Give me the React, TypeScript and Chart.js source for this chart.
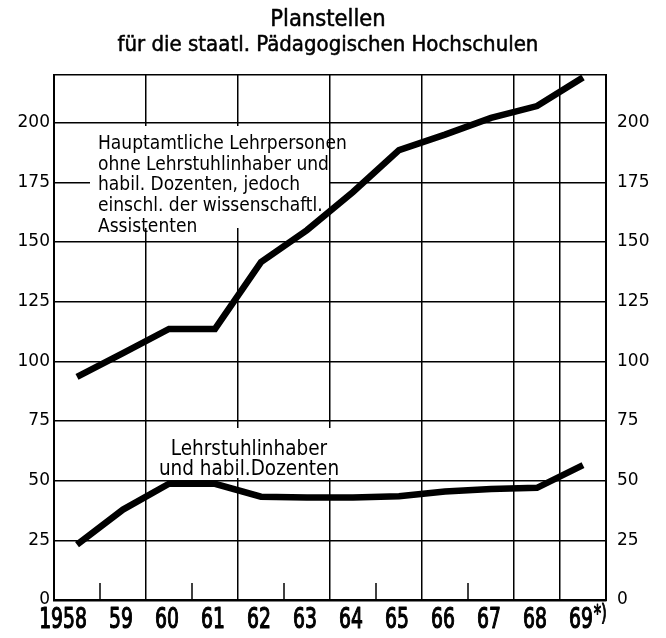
import React, { useEffect, useRef } from "react";
import { Chart, registerables } from "chart.js";

Chart.register(...registerables);

const years = ["1958", "59", "60", "61", "62", "63", "64", "65", "66", "67", "68", "69*)"];
const hauptamtlich = [93.5, 103.5, 113.6, 113.6, 141.6, 155, 171, 188.5, 195, 202, 207, 219];
const lehrstuhl = [23.2, 37.9, 48.7, 48.7, 43.3, 43, 43, 43.5, 45.5, 46.5, 47, 56.5];
const yTicks = [0, 25, 50, 75, 100, 125, 150, 175, 200, 220];
const shortTickBoundaries = [1, 3, 5, 7, 9];

const titleLines = ["Planstellen", "für die staatl. Pädagogischen Hochschulen"];
const upperNote = [
  "Hauptamtliche Lehrpersonen",
  "ohne Lehrstuhlinhaber und",
  "habil. Dozenten, jedoch",
  "einschl. der wissenschaftl.",
  "Assistenten",
];
const lowerNote = ["Lehrstuhlinhaber", "und habil.Dozenten"];

const TEXT_FONT = '"DejaVu Sans Condensed", "DejaVu Sans", sans-serif';

function heavyText(ctx: CanvasRenderingContext2D, t: string, x: number, y: number, w: number) {
  ctx.fillText(t, x, y);
  ctx.lineWidth = w;
  ctx.strokeText(t, x, y);
}

const decorPlugin = {
  id: "decor",
  beforeDatasetsDraw(chart: any) {
    const { ctx, chartArea, scales } = chart;
    const x = scales.x;
    ctx.save();
    ctx.strokeStyle = "#000";
    ctx.lineWidth = 1.5;
    for (const b of shortTickBoundaries) {
      const px = (x.getPixelForValue(b - 1) + x.getPixelForValue(b)) / 2;
      ctx.beginPath();
      ctx.moveTo(px, chartArea.bottom);
      ctx.lineTo(px, chartArea.bottom - 17);
      ctx.stroke();
    }
    ctx.fillStyle = "#fff";
    ctx.fillRect(90, 126, 239, 102);
    ctx.fillRect(152, 428, 194, 50);
    ctx.restore();
  },
  afterDraw(chart: any) {
    const { ctx, scales, chartArea } = chart;
    ctx.save();
    ctx.fillStyle = "#000";
    ctx.strokeStyle = "#000";
    ctx.lineJoin = "round";
    ctx.textBaseline = "alphabetic";
    // title
    ctx.textAlign = "center";
    ctx.font = `23.5px ${TEXT_FONT}`;
    heavyText(ctx, titleLines[0], 328, 26, 0.5);
    ctx.font = `22px ${TEXT_FONT}`;
    heavyText(ctx, titleLines[1], 328, 51, 0.5);
    // upper annotation
    ctx.textAlign = "left";
    ctx.font = `19px ${TEXT_FONT}`;
    upperNote.forEach((t, i) => ctx.fillText(t, 98, 149 + i * 20.7));
    // lower annotation
    ctx.textAlign = "center";
    ctx.font = `20.5px ${TEXT_FONT}`;
    lowerNote.forEach((t, i) => ctx.fillText(t, 249, 455 + i * 20));
    // x-axis year labels (tall, narrow lettering)
    const xs = scales.x;
    const base = chartArea.bottom + 28;
    years.forEach((label, i) => {
      const cx = xs.getPixelForValue(i) - 2;
      ctx.save();
      ctx.translate(cx, base);
      ctx.scale(0.72, 1);
      ctx.font = `29px ${TEXT_FONT}`;
      if (label.length === 4 && /^\d+$/.test(label)) {
        const w = ctx.measureText(label.slice(2)).width;
        ctx.textAlign = "right";
        heavyText(ctx, label, w / 2, 0, 1.2);
      } else if (label.endsWith("*)")) {
        const main = label.slice(0, -2);
        const w = ctx.measureText(main).width;
        ctx.textAlign = "center";
        heavyText(ctx, main, 0, 0, 1.2);
        ctx.textAlign = "left";
        ctx.font = `23px ${TEXT_FONT}`;
        heavyText(ctx, "*)", w / 2 + 1, -7, 1);
      } else {
        ctx.textAlign = "center";
        heavyText(ctx, label, 0, 0, 1.2);
      }
      ctx.restore();
    });
    ctx.restore();
  },
};

export default function App() {
  const ref = useRef<HTMLCanvasElement>(null);
  useEffect(() => {
    document.body.style.margin = "0";
    const canvas = ref.current;
    if (!canvas) return;
    const chart = new Chart(canvas, {
      type: "line",
      data: {
        labels: years,
        datasets: [
          {
            data: hauptamtlich,
            borderColor: "#000",
            borderWidth: 6.5,
            pointRadius: 0,
            tension: 0,
            yAxisID: "y",
          },
          {
            data: lehrstuhl,
            borderColor: "#000",
            borderWidth: 6.5,
            pointRadius: 0,
            tension: 0,
            yAxisID: "y",
          },
        ],
      },
      options: {
        responsive: false,
        animation: false,
        devicePixelRatio: 1,
        layout: { padding: { top: 75, left: 0, right: 0, bottom: 0 } },
        plugins: { legend: { display: false }, tooltip: { enabled: false }, title: { display: false } },
        scales: {
          x: {
            type: "category",
            offset: true,
            grid: {
              offset: true,
              drawTicks: false,
              lineWidth: 1.5,
              color: (c: any) =>
                c.index !== undefined && shortTickBoundaries.includes(c.index) ? "rgba(0,0,0,0)" : "#000",
            },
            border: { display: true, color: "#000", width: 2.5 },
            ticks: { display: false, autoSkip: false, maxRotation: 0 },
            afterFit: (s: any) => {
              s.height = 38;
            },
          },
          y: {
            type: "linear",
            position: "left",
            min: 0,
            max: 220,
            afterBuildTicks: (s: any) => {
              s.ticks = yTicks.map((v) => ({ value: v }));
            },
            grid: { drawTicks: false, lineWidth: 1.5, color: "#000" },
            border: { display: true, color: "#000", width: 2 },
            ticks: {
              color: "#000",
              padding: 4,
              font: { family: '"DejaVu Sans", sans-serif', size: 17 },
              callback: (v: any) => (v === 220 ? "" : String(v)),
            },
            afterFit: (s: any) => {
              s.width = 54;
            },
          },
          y2: {
            type: "linear",
            position: "right",
            min: 0,
            max: 220,
            afterBuildTicks: (s: any) => {
              s.ticks = yTicks.map((v) => ({ value: v }));
            },
            grid: { display: false, drawTicks: false },
            border: { display: true, color: "#000", width: 2 },
            ticks: {
              color: "#000",
              padding: 11,
              font: { family: '"DejaVu Sans", sans-serif', size: 17 },
              callback: (v: any) => (v === 220 ? "" : String(v)),
            },
            afterFit: (s: any) => {
              s.width = 60;
            },
          },
        },
      },
      plugins: [decorPlugin],
    });
    return () => chart.destroy();
  }, []);
  return (
    <div style={{ width: 666, height: 638, background: "#fff" }}>
      <canvas ref={ref} width={666} height={638} style={{ display: "block" }} />
    </div>
  );
}
